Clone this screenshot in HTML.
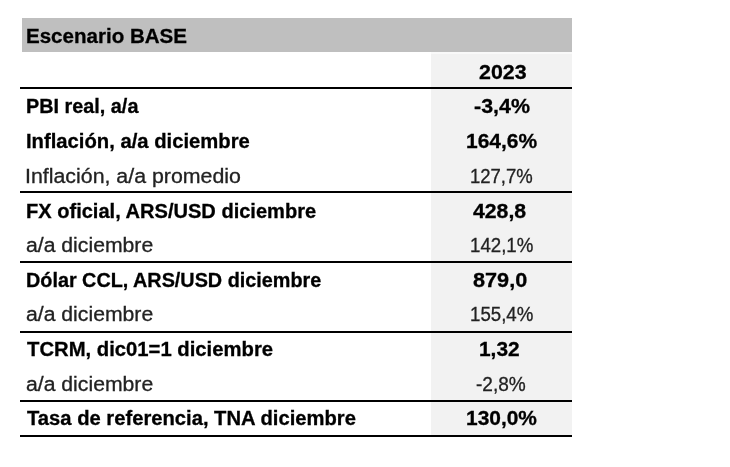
<!DOCTYPE html>
<html><head><meta charset="utf-8">
<style>
html,body{margin:0;padding:0;background:#fff;width:730px;height:467px;overflow:hidden;position:relative}
body{font-family:"Liberation Sans",Arial,sans-serif;color:#000}
.hdr{position:absolute;left:22px;top:18px;width:550px;height:34px;background:#bfbfbf}
.col{position:absolute;left:431px;top:52px;width:141px;height:383px;background:linear-gradient(#f9f9f9 0,#f9f9f9 2px,#f2f2f2 2px)}
.ln{position:absolute;left:20px;width:552px;height:2px;background:#000}
.wrap{position:absolute;left:0;top:0;width:730px;height:467px;filter:blur(0.35px)}
.t,.v{position:absolute;transform-origin:0 0;white-space:nowrap;font-size:20px;line-height:20px}
.b{font-weight:bold;-webkit-text-stroke:0.3px #000}
.r{font-weight:normal;color:#222;-webkit-text-stroke:0.3px #222}
</style></head><body>
<div class="wrap">
<div class="hdr"></div>
<div class="col"></div>
<div class="ln" style="top:87px"></div>
<div class="ln" style="top:191px"></div>
<div class="ln" style="top:261px"></div>
<div class="ln" style="top:330.5px"></div>
<div class="ln" style="top:400px"></div>
<div class="ln" style="top:435px"></div>
<div class="t b" id="e0" style="left:26.04px;top:26.41px;letter-spacing:0.000px;transform:scaleX(1.0270);font-size:20px">Escenario BASE</div>
<div class="t b" id="e1" style="left:26.02px;top:96.00px;letter-spacing:0.000px;transform:scaleX(0.9912);font-size:20px">PBI real, a/a</div>
<div class="t b" id="e2" style="left:26.02px;top:131.00px;letter-spacing:0.000px;transform:scaleX(1.0118);font-size:20px">Inflación, a/a diciembre</div>
<div class="t r" id="e3" style="left:25.12px;top:165.50px;letter-spacing:0.000px;transform:scaleX(1.0673);font-size:20px">Inflación, a/a promedio</div>
<div class="t b" id="e4" style="left:26.02px;top:200.50px;letter-spacing:0.000px;transform:scaleX(1.0028);font-size:20px">FX oficial, ARS/USD diciembre</div>
<div class="t r" id="e5" style="left:26.02px;top:235.00px;letter-spacing:0.000px;transform:scaleX(1.0593);font-size:20px">a/a diciembre</div>
<div class="t b" id="e6" style="left:26.02px;top:269.70px;letter-spacing:0.000px;transform:scaleX(0.9899);font-size:20px">Dólar CCL, ARS/USD diciembre</div>
<div class="t r" id="e7" style="left:26.02px;top:303.81px;letter-spacing:0.000px;transform:scaleX(1.0593);font-size:20px">a/a diciembre</div>
<div class="t b" id="e8" style="left:26.92px;top:339.41px;letter-spacing:0.000px;transform:scaleX(1.0132);font-size:20px">TCRM, dic01=1 diciembre</div>
<div class="t r" id="e9" style="left:26.02px;top:373.70px;letter-spacing:0.000px;transform:scaleX(1.0593);font-size:20px">a/a diciembre</div>
<div class="t b" id="e10" style="left:26.92px;top:408.00px;letter-spacing:0.000px;transform:scaleX(1.0099);font-size:20px">Tasa de referencia, TNA diciembre</div>
<div class="v b" id="e11" style="left:478.84px;top:61.50px;letter-spacing:0.000px;transform:scaleX(1.0687);font-size:20px">2023</div>
<div class="v b" id="e12" style="left:474.04px;top:96.00px;letter-spacing:0.000px;transform:scaleX(1.0708);font-size:20px">-3,4%</div>
<div class="v b" id="e13" style="left:466.04px;top:131.00px;letter-spacing:0.000px;transform:scaleX(1.0486);font-size:20px">164,6%</div>
<div class="v r" id="e14" style="left:470.01px;top:165.50px;letter-spacing:0.000px;transform:scaleX(0.9244);font-size:20px">127,7%</div>
<div class="v b" id="e15" style="left:472.89px;top:200.50px;letter-spacing:0.000px;transform:scaleX(1.0616);font-size:20px">428,8</div>
<div class="v r" id="e16" style="left:469.99px;top:235.00px;letter-spacing:0.000px;transform:scaleX(0.9335);font-size:20px">142,1%</div>
<div class="v b" id="e17" style="left:472.89px;top:269.70px;letter-spacing:0.000px;transform:scaleX(1.0832);font-size:20px">879,0</div>
<div class="v r" id="e18" style="left:469.99px;top:303.81px;letter-spacing:0.000px;transform:scaleX(0.9335);font-size:20px">155,4%</div>
<div class="v b" id="e19" style="left:479.03px;top:339.41px;letter-spacing:0.000px;transform:scaleX(1.0429);font-size:20px">1,32</div>
<div class="v r" id="e20" style="left:476.05px;top:373.70px;letter-spacing:0.000px;transform:scaleX(0.9532);font-size:20px">-2,8%</div>
<div class="v b" id="e21" style="left:466.04px;top:408.00px;letter-spacing:0.000px;transform:scaleX(1.0457);font-size:20px">130,0%</div>
</div>
</body></html>
